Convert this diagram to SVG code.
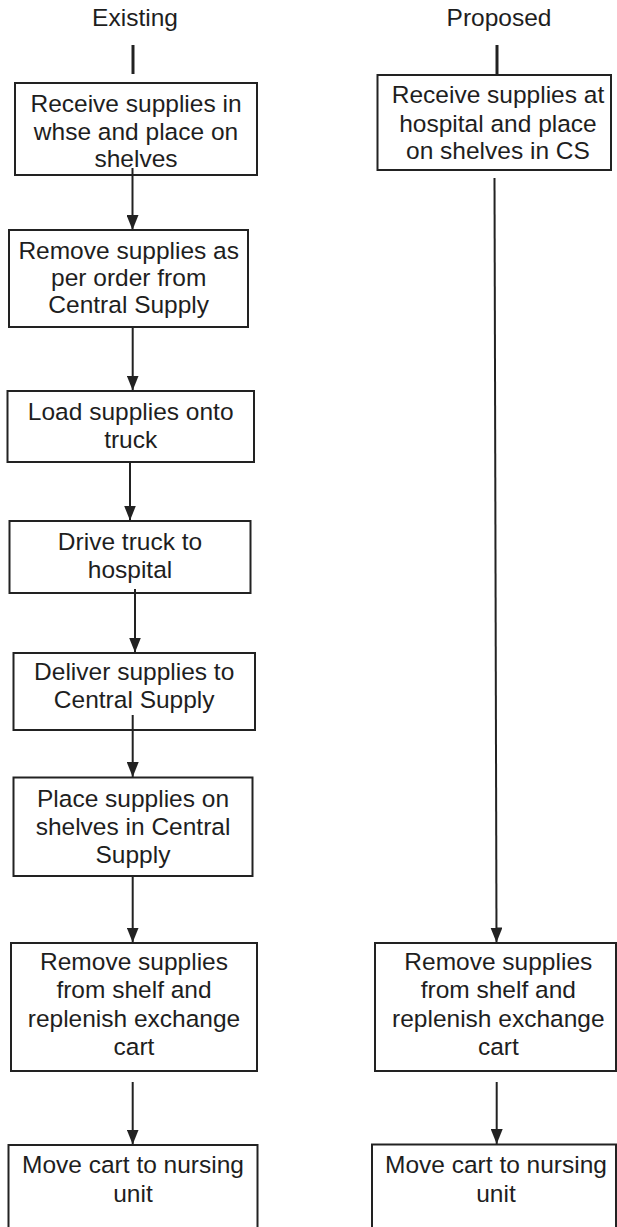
<svg xmlns="http://www.w3.org/2000/svg" width="617" height="1227" viewBox="0 0 617 1227">
<style>
  .box { fill: none; stroke: #222; stroke-width: 2; }
  .t { font-family: "Liberation Sans", Arial, sans-serif; font-size: 24.5px; fill: #1e1e1e; text-anchor: middle; }
  .c { stroke: #222; stroke-width: 2; fill: none; }
  .stub { stroke: #222; stroke-width: 3; }
</style>
<defs>
  <marker id="ah" markerUnits="userSpaceOnUse" markerWidth="15" markerHeight="12" refX="15" refY="6" orient="auto">
    <path d="M0,0 L15,6 L0,12 z" fill="#222"/>
  </marker>
</defs>
<rect width="617" height="1227" fill="#ffffff"/>
<text class="t" x="135" y="26">Existing</text>
<text class="t" x="499" y="26">Proposed</text>

<g id="connectors">
  <line class="stub" x1="133" y1="45" x2="133" y2="74"/>
  <line class="stub" x1="497" y1="45" x2="497" y2="75"/>
  <line class="c" x1="132.5" y1="168" x2="132.5" y2="230" marker-end="url(#ah)"/>
  <line class="c" x1="132.7" y1="327" x2="132.7" y2="390.5" marker-end="url(#ah)"/>
  <line class="c" x1="130" y1="462" x2="130" y2="520.5" marker-end="url(#ah)"/>
  <line class="c" x1="135" y1="589" x2="135" y2="652.5" marker-end="url(#ah)"/>
  <line class="c" x1="132.7" y1="715" x2="132.7" y2="777" marker-end="url(#ah)"/>
  <line class="c" x1="132.7" y1="876" x2="132.7" y2="942.5" marker-end="url(#ah)"/>
  <line class="c" x1="132.7" y1="1082" x2="132.7" y2="1144.5" marker-end="url(#ah)"/>
  <line class="c" x1="494.5" y1="178" x2="496.5" y2="942.5" marker-end="url(#ah)"/>
  <line class="c" x1="496.7" y1="1082" x2="496.7" y2="1144" marker-end="url(#ah)"/>
</g>

<g id="e1">
  <rect class="box" x="15" y="83" width="242" height="92"/>
  <text class="t" x="136" y="111.7">Receive supplies in</text>
  <text class="t" x="136" y="140">whse and place on</text>
  <text class="t" x="136" y="166.7">shelves</text>
</g>
<g id="e2">
  <rect class="box" x="9" y="230" width="239" height="97"/>
  <text class="t" x="128.7" y="259">Remove supplies as</text>
  <text class="t" x="128.7" y="286">per order from</text>
  <text class="t" x="128.7" y="313">Central Supply</text>
</g>
<g id="e3">
  <rect class="box" x="7.5" y="391" width="246.5" height="71"/>
  <text class="t" x="130.7" y="420">Load supplies onto</text>
  <text class="t" x="130.7" y="448.3">truck</text>
</g>
<g id="e4">
  <rect class="box" x="9.5" y="521" width="241" height="72"/>
  <text class="t" x="130" y="550">Drive truck to</text>
  <text class="t" x="130" y="578.3">hospital</text>
</g>
<g id="e5">
  <rect class="box" x="13.5" y="653" width="241.5" height="77"/>
  <text class="t" x="134.2" y="680">Deliver supplies to</text>
  <text class="t" x="134.2" y="708.3">Central Supply</text>
</g>
<g id="e6">
  <rect class="box" x="13.5" y="777.5" width="239" height="98.5"/>
  <text class="t" x="133" y="806.7">Place supplies on</text>
  <text class="t" x="133" y="835">shelves in Central</text>
  <text class="t" x="133" y="862.7">Supply</text>
</g>
<g id="e7">
  <rect class="box" x="11" y="943" width="246" height="128"/>
  <text class="t" x="134" y="970">Remove supplies</text>
  <text class="t" x="134" y="998.3">from shelf and</text>
  <text class="t" x="134" y="1026.7">replenish exchange</text>
  <text class="t" x="134" y="1055">cart</text>
</g>
<g id="e8">
  <rect class="box" x="8.5" y="1145" width="249" height="95"/>
  <text class="t" x="133" y="1173.3">Move cart to nursing</text>
  <text class="t" x="133" y="1201.7">unit</text>
</g>

<g id="p1">
  <rect class="box" x="377.5" y="75" width="233.5" height="95"/>
  <text class="t" x="498" y="103.3">Receive supplies at</text>
  <text class="t" x="498" y="131.7">hospital and place</text>
  <text class="t" x="498" y="159.3">on shelves in CS</text>
</g>
<g id="p7">
  <rect class="box" x="375" y="943" width="241" height="128"/>
  <text class="t" x="498.3" y="970">Remove supplies</text>
  <text class="t" x="498.3" y="998.3">from shelf and</text>
  <text class="t" x="498.3" y="1026.7">replenish exchange</text>
  <text class="t" x="498.3" y="1055">cart</text>
</g>
<g id="p8">
  <rect class="box" x="372" y="1144.5" width="244" height="95"/>
  <text class="t" x="496" y="1173.3">Move cart to nursing</text>
  <text class="t" x="496" y="1201.7">unit</text>
</g>
</svg>
